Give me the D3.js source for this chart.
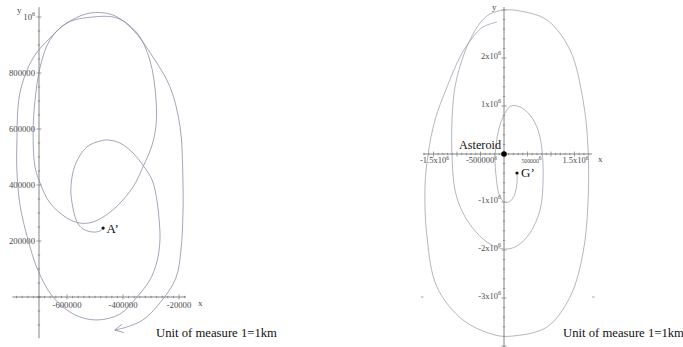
<!DOCTYPE html>
<html>
<head>
<meta charset="utf-8">
<script src="https://cdn.jsdelivr.net/npm/d3@7"></script>
<style>
  html, body { margin: 0; padding: 0; background: #fff; }
  svg { display: block; }
</style>
</head>
<body>
<svg id="chart" width="683" height="347"></svg>
<script>
// ---- Trajectory samples (km) ----
// Left: path starting at A', spiralling outward, ending with an arrow
const trackLeftOuter = [
  [-471000, 246000], [-482000, 236000], [-507000, 232000], [-543000, 243000],
  [-564000, 268000], [-582000, 336000], [-586000, 393000], [-571000, 471000],
  [-529000, 536000], [-482000, 557000], [-457000, 561000], [-411000, 550000],
  [-364000, 514000], [-329000, 471000], [-296000, 418000], [-279000, 346000],
  [-271000, 275000], [-268000, 204000], [-279000, 125000], [-304000, 61000],
  [-350000, 0], [-411000, -61000], [-493000, -82000], [-571000, -64000],
  [-650000, 0], [-704000, 96000], [-739000, 204000], [-768000, 329000],
  [-779000, 454000], [-779000, 550000], [-768000, 729000], [-721000, 854000],
  [-661000, 925000], [-600000, 979000], [-518000, 1014000], [-436000, 1007000],
  [-364000, 954000], [-293000, 857000], [-232000, 750000], [-196000, 607000],
  [-186000, 418000], [-186000, 293000], [-193000, 168000], [-211000, 68000],
  [-268000, -21000], [-329000, -82000], [-386000, -107000], [-429000, -118000]
];
// Left: second loop of the orbit
const trackLeftLoop = [
  [-714000, 464000], [-721000, 586000], [-714000, 704000], [-696000, 821000],
  [-661000, 918000], [-600000, 979000], [-507000, 1000000], [-421000, 996000],
  [-350000, 943000], [-304000, 846000], [-282000, 704000], [-282000, 614000],
  [-296000, 543000], [-329000, 464000], [-364000, 393000], [-436000, 311000],
  [-507000, 268000], [-554000, 264000], [-600000, 282000], [-661000, 336000],
  [-696000, 407000]
];
// Right: spiral from G' around the asteroid
const trackRight = [
  [276600, -395800], [276600, -604200], [212800, -875000], [106400, -1000000],
  [0, -1000000], [-106400, -833300], [-170200, -437500], [-191500, -125000],
  [-148900, 333300], [-21300, 770800], [148900, 1000000], [340400, 979200],
  [553200, 812500], [723400, 500000], [808500, 83300], [829800, -604200],
  [766000, -1166700], [553200, -1645800], [276600, -1916700], [21300, -1979200],
  [-297900, -1875000], [-595700, -1625000], [-872300, -1229200], [-1042600, -750000],
  [-1106400, -20800], [-1106400, 708300], [-1042600, 1395800], [-893600, 1958300],
  [-723400, 2375000], [-510600, 2729200], [-297900, 2916700], [0, 3000000],
  [340400, 2979200], [914900, 2791700], [1404300, 2166700], [1680900, 1125000],
  [1787200, 145800], [1787200, -1020800], [1680900, -2062500], [1404300, -2979200],
  [914900, -3604200], [191500, -3791700], [-191500, -3770800], [-872300, -3458300],
  [-1425500, -2770800], [-1638300, -1729200], [-1680900, -687500], [-1617000, -20800],
  [-1468100, 708300], [-1212800, 1395800], [-936200, 2020800], [-659600, 2437500],
  [-446800, 2645800], [-148900, 2750000]
];

const pointA = [-471000, 246000];
const pointG = [276600, -395800];
const asteroid = [0, 0];

// ---- Ticks ----
const leftXTicks = [-600000, -400000, -200000];
const leftXTickLabels = ["-600000", "-400000", "-20000"];
const leftYTicks = [200000, 400000, 600000, 800000, 1000000];
const leftYTickLabels = [["200000", ""], ["400000", ""], ["600000", ""], ["800000", ""], ["10", "6"]];
const rightXTicks = [-1500000, -500000, 500000, 1500000];
const rightXTickLabels = [["-1.5x10", "6"], ["-500000", "6"], ["500000", "6"], ["1.5x10", "6"]];
const rightYTicks = [2000000, 1000000, -1000000, -2000000, -3000000];
const rightYTickLabels = [["2x10", "6"], ["1x10", "6"], ["-1x10", "6"], ["-2x10", "6"], ["-3x10", "6"]];

const unitNote = "Unit of measure 1=1km";

// ---- Setup ----
const svg = d3.select("#chart");
const serif = "'Liberation Serif', 'Times New Roman', serif";
const axisColor = "#666";
const labelColor = "#4a4a4a";
const leftCurveColor = "#8587a0";
const rightCurveColor = "#9c9eae";

const defs = svg.append("defs");
defs.append("marker")
  .attr("id", "arrowOpen")
  .attr("viewBox", "-10 -6 12 12")
  .attr("markerUnits", "userSpaceOnUse")
  .attr("markerWidth", 12).attr("markerHeight", 12)
  .attr("refX", 0).attr("refY", 0)
  .attr("orient", "auto")
  .append("path")
  .attr("d", "M-8,-4.2 L0,0 L-8,4.2")
  .attr("fill", "none")
  .attr("stroke", leftCurveColor)
  .attr("stroke-width", 0.75);

// ---- Left panel ----
const xL = d3.scaleLinear().domain([-700000, -200000]).range([39, 179]);
const yL = d3.scaleLinear().domain([0, 1000000]).range([297, 17]);

const gL = svg.append("g");

// axes
gL.append("line")
  .attr("x1", xL(-795000)).attr("x2", xL(-175000))
  .attr("y1", yL(0)).attr("y2", yL(0))
  .attr("stroke", axisColor).attr("stroke-width", 0.8);
gL.append("line")
  .attr("x1", xL(-700000)).attr("x2", xL(-700000))
  .attr("y1", yL(1035000)).attr("y2", yL(-147000))
  .attr("stroke", axisColor).attr("stroke-width", 0.8);

// x minor/major ticks
gL.append("g").selectAll("line")
  .data(d3.range(-780000, -179999, 20000))
  .join("line")
  .attr("x1", d => xL(d)).attr("x2", d => xL(d))
  .attr("y1", d => yL(0) - (d % 200000 === 0 ? 2.5 : 1.2))
  .attr("y2", d => yL(0) + (d % 200000 === 0 ? 2.5 : 1.2))
  .attr("stroke", axisColor).attr("stroke-width", 0.6);
// y minor/major ticks
gL.append("g").selectAll("line")
  .data(d3.range(-100000, 1030001, 50000))
  .join("line")
  .attr("x1", d => xL(-700000) - (d % 200000 === 0 ? 2.5 : 1.2))
  .attr("x2", d => xL(-700000) + (d % 200000 === 0 ? 2.5 : 1.2))
  .attr("y1", d => yL(d)).attr("y2", d => yL(d))
  .attr("stroke", axisColor).attr("stroke-width", 0.6);

// tick labels
gL.append("g").selectAll("text")
  .data(leftXTicks)
  .join("text")
  .attr("x", d => xL(d)).attr("y", yL(0) + 11)
  .attr("text-anchor", "middle")
  .attr("font-family", serif).attr("font-size", 8.7)
  .attr("fill", labelColor)
  .text((d, i) => leftXTickLabels[i]);

const yLab = gL.append("g").selectAll("text")
  .data(leftYTicks)
  .join("text")
  .attr("x", xL(-700000) - 4).attr("y", d => yL(d) + 3)
  .attr("text-anchor", "end")
  .attr("font-family", serif).attr("font-size", 8.7)
  .attr("fill", labelColor);
yLab.append("tspan").text((d, i) => leftYTickLabels[i][0]);
yLab.append("tspan").attr("dy", -4).attr("font-size", 6).text((d, i) => leftYTickLabels[i][1]);

gL.append("text").attr("x", 17).attr("y", 13)
  .attr("font-family", serif).attr("font-size", 9).attr("fill", labelColor).text("y");
gL.append("text").attr("x", 198).attr("y", 306)
  .attr("font-family", serif).attr("font-size", 9).attr("fill", labelColor).text("x");

// curves
const lineL = d3.line().x(d => xL(d[0])).y(d => yL(d[1])).curve(d3.curveCatmullRom.alpha(0.5));
const lineLClosed = d3.line().x(d => xL(d[0])).y(d => yL(d[1])).curve(d3.curveCatmullRomClosed.alpha(0.5));

gL.append("path")
  .attr("d", lineLClosed(trackLeftLoop))
  .attr("fill", "none").attr("stroke", leftCurveColor).attr("stroke-width", 0.75);
gL.append("path")
  .attr("d", lineL(trackLeftOuter))
  .attr("fill", "none").attr("stroke", leftCurveColor).attr("stroke-width", 0.75)
  .attr("marker-end", "url(#arrowOpen)");

gL.append("circle")
  .attr("cx", xL(pointA[0])).attr("cy", yL(pointA[1])).attr("r", 1.6).attr("fill", "#111");
gL.append("text")
  .attr("x", xL(pointA[0]) + 3.5).attr("y", yL(pointA[1]) + 4.5)
  .attr("font-family", serif).attr("font-size", 13).attr("fill", "#111")
  .text("A\u2019");

gL.append("text")
  .attr("x", 156).attr("y", 337)
  .attr("font-family", serif).attr("font-size", 12.7).attr("fill", "#111")
  .text(unitNote);

// ---- Right panel ----
const xR = d3.scaleLinear().domain([-1500000, 1500000]).range([433.5, 574.5]);
const yR = d3.scaleLinear().domain([-3000000, 2000000]).range([298, 58]);

const gR = svg.append("g");

gR.append("line")
  .attr("x1", xR(-1723000)).attr("x2", xR(1872000))
  .attr("y1", yR(0)).attr("y2", yR(0))
  .attr("stroke", axisColor).attr("stroke-width", 0.8);
gR.append("line")
  .attr("x1", xR(0)).attr("x2", xR(0))
  .attr("y1", yR(3062000)).attr("y2", yR(-4100000))
  .attr("stroke", axisColor).attr("stroke-width", 0.8);

gR.append("g").selectAll("line")
  .data(d3.range(-1700000, 1800001, 100000))
  .join("line")
  .attr("x1", d => xR(d)).attr("x2", d => xR(d))
  .attr("y1", d => yR(0) - (d % 500000 === 0 ? 2.5 : 1.2))
  .attr("y2", d => yR(0) + (d % 500000 === 0 ? 2.5 : 1.2))
  .attr("stroke", axisColor).attr("stroke-width", 0.6);
gR.append("g").selectAll("line")
  .data(d3.range(-4000000, 3000001, 200000))
  .join("line")
  .attr("x1", d => xR(0) - (d % 1000000 === 0 ? 2.5 : 1.2))
  .attr("x2", d => xR(0) + (d % 1000000 === 0 ? 2.5 : 1.2))
  .attr("y1", d => yR(d)).attr("y2", d => yR(d))
  .attr("stroke", axisColor).attr("stroke-width", 0.6);

const xLabR = gR.append("g").selectAll("text")
  .data(rightXTicks)
  .join("text")
  .attr("x", d => xR(d) + (d === 500000 ? 4 : 1)).attr("y", yR(0) + 9)
  .attr("text-anchor", "middle")
  .attr("font-family", serif)
  .attr("font-size", d => d === 500000 ? 5.8 : 8.5)
  .attr("fill", labelColor);
xLabR.append("tspan").text((d, i) => rightXTickLabels[i][0]);
xLabR.append("tspan").attr("dy", -3).attr("font-size", 5.5).text((d, i) => rightXTickLabels[i][1]);

const yLabR = gR.append("g").selectAll("text")
  .data(rightYTicks)
  .join("text")
  .attr("x", xR(0) - 3).attr("y", d => yR(d) + 1)
  .attr("text-anchor", "end")
  .attr("font-family", serif).attr("font-size", 8.5)
  .attr("fill", labelColor);
yLabR.append("tspan").text((d, i) => rightYTickLabels[i][0]);
yLabR.append("tspan").attr("dy", -4).attr("font-size", 6).text((d, i) => rightYTickLabels[i][1]);

gR.append("text").attr("x", 492).attr("y", 10)
  .attr("font-family", serif).attr("font-size", 9).attr("fill", labelColor).text("y");
gR.append("text").attr("x", 598).attr("y", 162)
  .attr("font-family", serif).attr("font-size", 9).attr("fill", labelColor).text("x");

// small edge marks at the -3x10^6 level
gR.append("g").selectAll("line")
  .data([-1740000, 1900000])
  .join("line")
  .attr("x1", d => xR(d) - 1.2).attr("x2", d => xR(d) + 1.2)
  .attr("y1", yR(-3000000) - 1).attr("y2", yR(-3000000) - 1)
  .attr("stroke", "#888").attr("stroke-width", 0.8);

const lineR = d3.line().x(d => xR(d[0])).y(d => yR(d[1])).curve(d3.curveCatmullRom.alpha(0.5));
gR.append("path")
  .attr("d", lineR(trackRight))
  .attr("fill", "none").attr("stroke", rightCurveColor).attr("stroke-width", 0.75);

gR.append("circle")
  .attr("cx", xR(asteroid[0])).attr("cy", yR(asteroid[1])).attr("r", 2.8).attr("fill", "#000");
gR.append("text")
  .attr("x", xR(0) - 3).attr("y", yR(0) - 5)
  .attr("text-anchor", "end")
  .attr("font-family", serif).attr("font-size", 12.2).attr("fill", "#111")
  .text("Asteroid");

gR.append("circle")
  .attr("cx", xR(pointG[0])).attr("cy", yR(pointG[1])).attr("r", 1.6).attr("fill", "#111");
gR.append("text")
  .attr("x", xR(pointG[0]) + 4).attr("y", yR(pointG[1]) + 4)
  .attr("font-family", serif).attr("font-size", 13).attr("fill", "#111")
  .text("G\u2019");

gR.append("text")
  .attr("x", 563).attr("y", 337)
  .attr("font-family", serif).attr("font-size", 12.7).attr("fill", "#111")
  .text(unitNote);
</script>
</body>
</html>
